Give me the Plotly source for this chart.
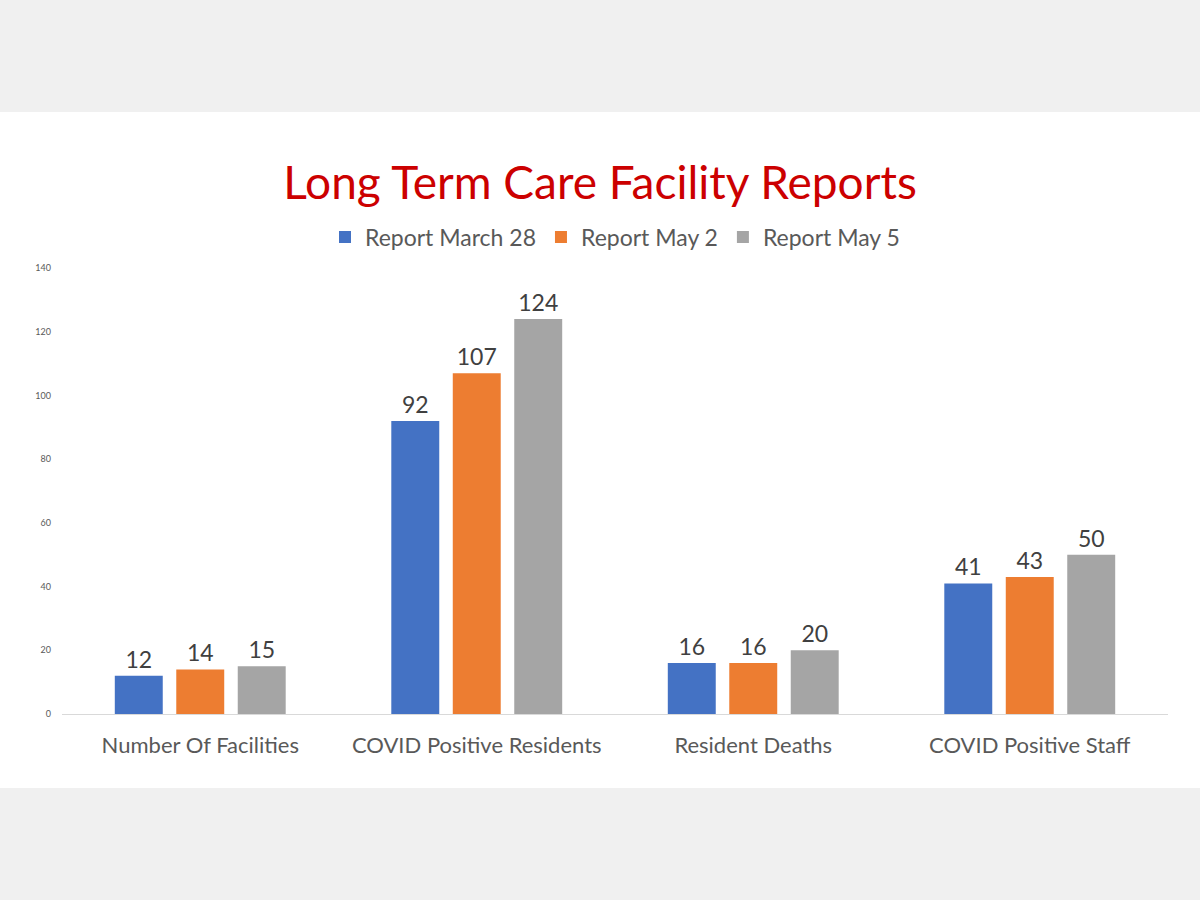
import plotly.graph_objects as go

categories = ["Number Of Facilities", "COVID Positive Residents", "Resident Deaths", "COVID Positive Staff"]
march28 = [12, 92, 16, 41]
may2 = [14, 107, 16, 43]
may5 = [15, 124, 20, 50]
series_names = ["Report March 28", "Report May 2", "Report May 5"]
colors = ["#4472C4", "#ED7D31", "#A5A5A5"]
y_ticks = [0, 20, 40, 60, 80, 100, 120, 140]

FONT = "Lato, 'Open Sans', sans-serif"

fig = go.Figure()
for name, vals, col in zip(series_names, [march28, may2, may5], colors):
    fig.add_trace(go.Bar(
        x=categories, y=vals, name=name,
        marker=dict(color=col, line=dict(width=0)),
        text=vals, textposition="outside", cliponaxis=False,
        textfont=dict(size=23, color="#404040", family=FONT),
    ))

# white slide band over grey page
fig.add_shape(type="rect", xref="paper", yref="paper",
              x0=-0.1, x1=1.1, y0=-0.1659, y1=1.3498,
              fillcolor="white", line=dict(width=0), layer="below")

fig.update_layout(
    width=1200, height=900,
    paper_bgcolor="#F0F0F0", plot_bgcolor="white",
    margin=dict(l=62, r=32, t=268, b=186, autoexpand=False),
    font=dict(family=FONT, color="#595959"),
    title=dict(text="Long Term Care Facility Reports", x=0.5, xanchor="center",
               y=1 - 183 / 900, yanchor="middle",
               font=dict(size=46, color="#CC0000", family=FONT)),
    legend=dict(orientation="h", x=0.5, xanchor="center", y=1.0695, yanchor="middle",
                bgcolor="rgba(0,0,0,0)",
                font=dict(size=23, color="#595959"), itemclick=False),
    bargap=0.333, bargroupgap=0.22,
    showlegend=True,
)
fig.update_xaxes(showline=True, linecolor="#D9D9D9", linewidth=1, ticks="",
                 tickfont=dict(size=22, color="#595959"), ticklabelstandoff=12,
                 showgrid=False)
fig.update_yaxes(range=[0, 140], tickvals=y_ticks, showgrid=False, zeroline=False,
                 showline=False, ticks="", tickfont=dict(size=9, color="#595959"),
                 ticklabelstandoff=10)

fig.write_html("out.html", config={"displayModeBar": False},
               post_script="document.body.style.margin='0';")
